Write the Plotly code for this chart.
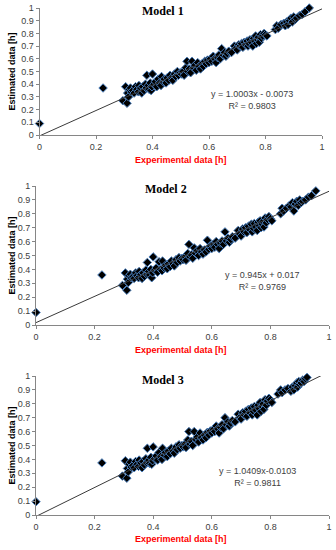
import plotly.graph_objects as go

# Experimental data (shared by all models below x ~ 0.81)
exp_main = [0.000, 0.225, 0.295, 0.305, 0.310, 0.312, 0.315, 0.318, 0.322, 0.325,
            0.330, 0.335, 0.340, 0.345, 0.350, 0.352, 0.358, 0.362, 0.365, 0.370,
            0.375, 0.378, 0.380, 0.385, 0.388, 0.392, 0.395, 0.398, 0.400, 0.405,
            0.410, 0.415, 0.420, 0.425, 0.430, 0.432, 0.438, 0.442, 0.448, 0.452,
            0.458, 0.462, 0.468, 0.472, 0.478, 0.482, 0.488, 0.492, 0.498, 0.502,
            0.508, 0.512, 0.518, 0.522, 0.525, 0.530, 0.535, 0.540, 0.545, 0.550,
            0.555, 0.560, 0.565, 0.570, 0.575, 0.580, 0.585, 0.590, 0.595, 0.600,
            0.605, 0.610, 0.615, 0.620, 0.625, 0.630, 0.635, 0.640, 0.645, 0.650,
            0.655, 0.660, 0.665, 0.670, 0.680, 0.690, 0.695, 0.700, 0.705, 0.710,
            0.715, 0.720, 0.725, 0.730, 0.735, 0.738, 0.742, 0.745, 0.750, 0.755,
            0.758, 0.762, 0.765, 0.768, 0.772, 0.775, 0.778, 0.782, 0.786, 0.790,
            0.795, 0.800, 0.805]
exp_tail_12 = [0.835, 0.840, 0.845, 0.855, 0.865, 0.870, 0.875, 0.880, 0.885, 0.890,
               0.895, 0.900, 0.905, 0.910, 0.920, 0.930, 0.940, 0.955]
exp_tail_3 = [0.826, 0.835, 0.840, 0.850, 0.860, 0.870, 0.875, 0.880, 0.885, 0.890,
              0.893, 0.897, 0.900, 0.905, 0.910, 0.915, 0.920, 0.925]

est1_main = [0.090, 0.370, 0.270, 0.380, 0.250, 0.330, 0.300, 0.360, 0.370, 0.340,
             0.350, 0.330, 0.380, 0.360, 0.340, 0.390, 0.370, 0.330, 0.380, 0.350,
             0.400, 0.370, 0.470, 0.390, 0.360, 0.410, 0.350, 0.380, 0.480, 0.400,
             0.420, 0.380, 0.440, 0.410, 0.390, 0.460, 0.420, 0.440, 0.410, 0.450,
             0.430, 0.470, 0.450, 0.430, 0.480, 0.460, 0.500, 0.470, 0.490, 0.480,
             0.500, 0.470, 0.530, 0.580, 0.500, 0.520, 0.490, 0.580, 0.530, 0.550,
             0.510, 0.570, 0.540, 0.520, 0.560, 0.540, 0.580, 0.560, 0.590, 0.570,
             0.600, 0.580, 0.620, 0.600, 0.570, 0.610, 0.630, 0.600, 0.680, 0.630,
             0.650, 0.620, 0.640, 0.660, 0.650, 0.700, 0.680, 0.670, 0.710, 0.700,
             0.720, 0.690, 0.730, 0.710, 0.740, 0.700, 0.720, 0.750, 0.730, 0.700,
             0.760, 0.740, 0.780, 0.720, 0.750, 0.770, 0.730, 0.790, 0.760, 0.780,
             0.800, 0.790, 0.780]
est1_tail = [0.830, 0.860, 0.840, 0.870, 0.880, 0.860, 0.890, 0.870, 0.900, 0.920,
             0.890, 0.930, 0.910, 0.920, 0.940, 0.950, 0.970, 1.000]

est2_main = [0.090, 0.360, 0.285, 0.375, 0.250, 0.330, 0.305, 0.355, 0.365, 0.340,
             0.345, 0.335, 0.375, 0.355, 0.340, 0.385, 0.365, 0.335, 0.375, 0.350,
             0.395, 0.365, 0.450, 0.385, 0.360, 0.400, 0.340, 0.375, 0.490, 0.395,
             0.410, 0.380, 0.455, 0.400, 0.390, 0.460, 0.410, 0.430, 0.405, 0.440,
             0.420, 0.460, 0.440, 0.425, 0.470, 0.450, 0.485, 0.460, 0.480, 0.470,
             0.490, 0.465, 0.515, 0.580, 0.490, 0.505, 0.480, 0.555, 0.515, 0.535,
             0.500, 0.550, 0.525, 0.510, 0.540, 0.525, 0.610, 0.545, 0.570, 0.550,
             0.580, 0.560, 0.600, 0.580, 0.550, 0.590, 0.605, 0.580, 0.670, 0.605,
             0.625, 0.595, 0.615, 0.635, 0.625, 0.680, 0.655, 0.640, 0.690, 0.670,
             0.700, 0.665, 0.710, 0.685, 0.725, 0.670, 0.695, 0.730, 0.705, 0.680,
             0.740, 0.715, 0.750, 0.700, 0.725, 0.745, 0.705, 0.770, 0.735, 0.760,
             0.780, 0.765, 0.750]
est2_tail = [0.800, 0.840, 0.820, 0.840, 0.860, 0.850, 0.880, 0.820, 0.870, 0.890,
             0.860, 0.900, 0.880, 0.890, 0.900, 0.920, 0.930, 0.965]

est3_main = [0.095, 0.375, 0.280, 0.390, 0.265, 0.335, 0.310, 0.365, 0.380, 0.345,
             0.355, 0.340, 0.385, 0.365, 0.350, 0.395, 0.375, 0.340, 0.385, 0.360,
             0.405, 0.375, 0.480, 0.395, 0.370, 0.415, 0.365, 0.390, 0.490, 0.405,
             0.425, 0.395, 0.450, 0.420, 0.400, 0.480, 0.430, 0.450, 0.420, 0.460,
             0.440, 0.480, 0.460, 0.445, 0.490, 0.470, 0.505, 0.480, 0.500, 0.490,
             0.510, 0.485, 0.540, 0.600, 0.510, 0.530, 0.500, 0.600, 0.545, 0.560,
             0.525, 0.590, 0.555, 0.540, 0.575, 0.555, 0.595, 0.575, 0.605, 0.590,
             0.615, 0.600, 0.640, 0.620, 0.590, 0.630, 0.650, 0.620, 0.700, 0.650,
             0.670, 0.640, 0.660, 0.680, 0.670, 0.725, 0.700, 0.690, 0.735, 0.720,
             0.745, 0.710, 0.760, 0.735, 0.770, 0.720, 0.745, 0.780, 0.755, 0.720,
             0.790, 0.765, 0.810, 0.745, 0.780, 0.800, 0.760, 0.830, 0.790, 0.820,
             0.840, 0.830, 0.810]
est3_tail = [0.870, 0.900, 0.880, 0.900, 0.910, 0.890, 0.920, 0.900, 0.930, 0.950,
             0.920, 0.960, 0.940, 0.950, 0.970, 0.960, 0.980, 0.990]

titles = ["Model 1", "Model 2", "Model 3"]
slopes = [1.0003, 0.945, 1.0409]
intercepts = [-0.0073, 0.017, -0.0103]
eq_texts = ["y = 1.0003x - 0.0073<br>R² = 0.9803",
            "y = 0.945x + 0.017<br>R² = 0.9769",
            "y = 1.0409x-0.0103<br>R² = 0.9811"]
tick_vals_x = [0, 0.2, 0.4, 0.6, 0.8, 1]
tick_text_x = ["0", "0.2", "0.4", "0.6", "0.8", "1"]
tick_vals_y = [0, 0.1, 0.2, 0.3, 0.4, 0.5, 0.6, 0.7, 0.8, 0.9, 1]
tick_text_y = ["0", "0.1", "0.2", "0.3", "0.4", "0.5", "0.6", "0.7", "0.8", "0.9", "1"]

xs = [exp_main + exp_tail_12, exp_main + exp_tail_12, exp_main + exp_tail_3]
ys = [est1_main + est1_tail, est2_main + est2_tail, est3_main + est3_tail]

W, H = 336, 550
# plot areas in pixels: (left, right, top, bottom)
areas = [(39.5, 322, 8, 135), (36, 329, 186, 325), (36, 329, 376, 515)]
title_y = [11, 189, 380]
title_x = [163, 166, 163]
xtitle_y = [160, 350, 539]
eq_pos = [(252, 100), (262, 281), (257, 477)]

fig = go.Figure()
layout = dict(width=W, height=H, margin=dict(l=0, r=0, t=0, b=0),
              paper_bgcolor="white", plot_bgcolor="white", showlegend=False)
annotations = []
tickfont = dict(family="Liberation Sans, Arial", size=9, color="#404040")

for i in range(3):
    n = "" if i == 0 else str(i + 1)
    xa, ya = "x" + n, "y" + n
    l, r, t, b = areas[i]
    layout["xaxis" + n] = dict(domain=[l / W, r / W], range=[0, 1], anchor=ya,
                               tickvals=tick_vals_x, ticktext=tick_text_x,
                               showgrid=False, zeroline=False, showline=True,
                               linecolor="#868686", linewidth=1, ticks="outside",
                               ticklen=3, tickcolor="#868686", tickfont=tickfont,
                               ticklabeloverflow="allow", automargin=False)
    layout["yaxis" + n] = dict(domain=[1 - b / H, 1 - t / H], range=[0, 1], anchor=xa,
                               tickvals=tick_vals_y, ticktext=tick_text_y,
                               showgrid=False, zeroline=False, showline=True,
                               linecolor="#868686", linewidth=1, ticks="outside",
                               ticklen=3, tickcolor="#868686", tickfont=tickfont,
                               ticklabeloverflow="allow", automargin=False)
    fig.add_trace(go.Scatter(x=xs[i], y=ys[i], mode="markers", xaxis=xa, yaxis=ya,
                             marker=dict(symbol="diamond", size=6.5, color="black",
                                         line=dict(color="#4a7ebb", width=1)),
                             cliponaxis=False))
    fig.add_trace(go.Scatter(x=[0, 1], y=[intercepts[i], slopes[i] + intercepts[i]],
                             mode="lines", xaxis=xa, yaxis=ya,
                             line=dict(color="#3a3a3a", width=1)))
    annotations.append(dict(xref="paper", yref="paper", x=title_x[i] / W,
                            y=1 - title_y[i] / H, text="<b>" + titles[i] + "</b>",
                            showarrow=False, xanchor="center", yanchor="middle",
                            font=dict(family="Liberation Serif, Times New Roman",
                                      size=12, color="black")))
    annotations.append(dict(xref="paper", yref="paper", x=11 / W,
                            y=1 - (t + b) / 2 / H, text="<b>Estimated data [h]</b>",
                            textangle=-90, showarrow=False, xanchor="center",
                            yanchor="middle",
                            font=dict(family="Liberation Sans, Arial", size=9,
                                      color="black")))
    annotations.append(dict(xref="paper", yref="paper", x=181 / W,
                            y=1 - xtitle_y[i] / H, text="<b>Experimental data [h]</b>",
                            showarrow=False, xanchor="center", yanchor="middle",
                            font=dict(family="Liberation Sans, Arial", size=9,
                                      color="#ff0000")))
    annotations.append(dict(xref="paper", yref="paper", x=eq_pos[i][0] / W,
                            y=1 - eq_pos[i][1] / H, text=eq_texts[i],
                            showarrow=False, xanchor="center", yanchor="middle",
                            align="center",
                            font=dict(family="Liberation Sans, Arial", size=9,
                                      color="#404040")))

layout["annotations"] = annotations
fig.update_layout(**layout)
fig.write_html("out.html", config={"displayModeBar": False},
               post_script="document.body.style.margin='0';"
                           "document.body.style.overflow='hidden';")
